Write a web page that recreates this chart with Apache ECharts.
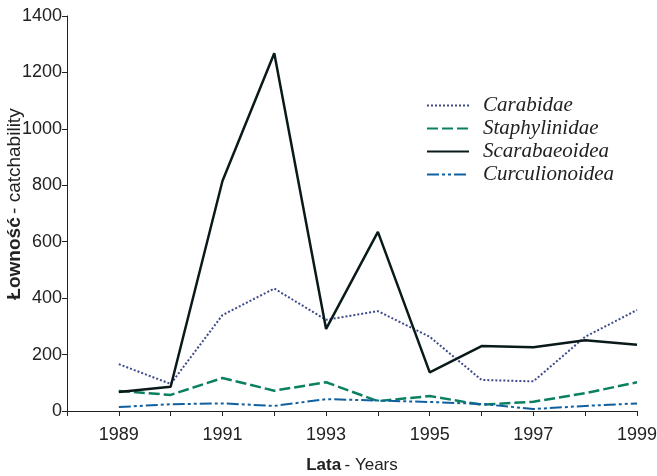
<!DOCTYPE html>
<html>
<head>
<meta charset="utf-8">
<script src="https://cdn.jsdelivr.net/npm/echarts@6/dist/echarts.min.js"></script>
<style>html,body{margin:0;padding:0;background:#fff}#c{width:657px;height:476px}</style>
</head>
<body>
<div id="c"></div>
<script>
const years = [1989, 1990, 1991, 1992, 1993, 1994, 1995, 1996, 1997, 1998, 1999];
const carabidae = [166, 96, 340, 434, 323, 354, 263, 110, 105, 263, 358];
const staphylinidae = [71, 57, 117, 72, 102, 35, 53, 22, 33, 63, 102];
const scarabaeoidea = [67, 86, 815, 1268, 291, 635, 137, 230, 226, 251, 235];
const curculionoidea = [14, 24, 27, 18, 42, 37, 32, 25, 7, 18, 27];
const seriesNames = ['Carabidae', 'Staphylinidae', 'Scarabaeoidea', 'Curculionoidea'];
const yTicks = [0, 200, 400, 600, 800, 1000, 1200, 1400];
const xLabelYears = [1989, 1991, 1993, 1995, 1997, 1999];

const pairs = arr => years.map((y, i) => [y, arr[i]]);
const chart = echarts.init(document.getElementById('c'));
const axisCol = '#222';
const richTitle = size => ({
  b: { fontFamily: 'Liberation Sans', fontWeight: 'bold', fontSize: size, fill: '#222', color: '#222' },
  n: { fontFamily: 'Liberation Sans', fontSize: size, fill: '#222', color: '#222' }
});
chart.setOption({
  animation: false,
  grid: { left: 67, right: 20, top: 16, bottom: 65, outerBoundsMode: 'none', containLabel: false },
  xAxis: {
    type: 'value', min: 1988, max: 1999, interval: 1,
    name: '{b|Lata} {n|- Years}', nameLocation: 'middle', nameGap: 46,
    nameTextStyle: { rich: richTitle(17) },
    axisLine: { lineStyle: { color: axisCol, width: 1 } },
    axisTick: { show: true, length: 5, lineStyle: { color: axisCol } },
    splitLine: { show: false },
    axisLabel: { fontFamily: 'Liberation Sans', fontSize: 18, color: '#222', margin: 15,
      formatter: v => xLabelYears.indexOf(v) >= 0 ? String(v) : '' }
  },
  yAxis: {
    type: 'value', min: yTicks[0], max: yTicks[yTicks.length - 1], interval: 200,
    axisLine: { show: true, lineStyle: { color: axisCol, width: 1 } },
    axisTick: { show: true, length: 5, lineStyle: { color: axisCol } },
    splitLine: { show: false },
    axisLabel: { fontFamily: 'Liberation Sans', fontSize: 18, color: '#222', margin: 5,
      formatter: v => String(v) }
  },
  graphic: [{
    type: 'text', x: 15, y: 204, rotation: Math.PI / 2,
    style: { text: '{b|Łowność} {n|- catchability}', rich: richTitle(19),
      align: 'center', verticalAlign: 'middle' }
  }],
  legend: {
    orient: 'vertical', left: 421, top: 90, itemWidth: 42, itemHeight: 14, itemGap: 2,
    data: seriesNames,
    itemStyle: { opacity: 0 },
    textStyle: { fontFamily: 'Liberation Serif', fontStyle: 'italic', fontSize: 21, lineHeight: 20, color: '#222', padding: [0, 0, 0, 9] }
  },
  series: [
    { name: seriesNames[0], type: 'line', symbol: 'none', data: pairs(carabidae),
      lineStyle: { color: '#3e4a8a', width: 2, type: [2, 2] }, itemStyle: { color: '#3e4a8a' } },
    { name: seriesNames[1], type: 'line', symbol: 'none', data: pairs(staphylinidae),
      lineStyle: { color: '#0b8060', width: 2.5, type: [11, 4] }, itemStyle: { color: '#0b8060' } },
    { name: seriesNames[2], type: 'line', symbol: 'none', data: pairs(scarabaeoidea),
      lineStyle: { color: '#0a1a1a', width: 2.5, type: 'solid' }, itemStyle: { color: '#0a1a1a' } },
    { name: seriesNames[3], type: 'line', symbol: 'none', data: pairs(curculionoidea),
      lineStyle: { color: '#1060a0', width: 2, type: [12, 3, 3, 3, 3, 3] }, itemStyle: { color: '#1060a0' } }
  ]
});
</script>
</body>
</html>
